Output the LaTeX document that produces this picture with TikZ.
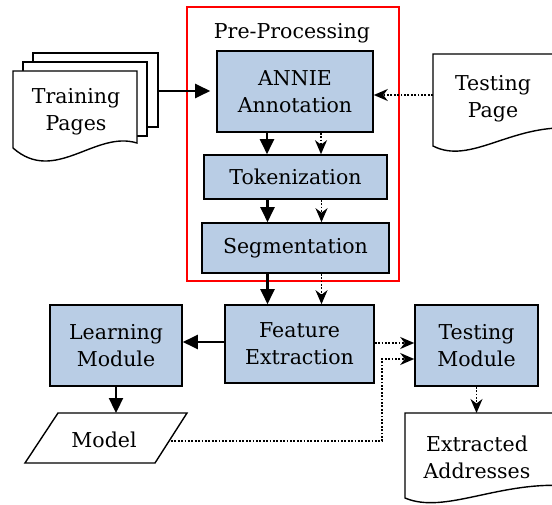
\documentclass[tikz,border=0pt]{standalone}
\usepackage{fontspec}
\setmainfont{DejaVu Serif}
\usetikzlibrary{arrows.meta}
\definecolor{boxblue}{RGB}{185,205,229}
\begin{document}
\begin{tikzpicture}[x=1pt,y=-1pt,
 txt/.style={align=center,inner sep=0pt,font=\fontsize{20.5}{27}\selectfont},
 proc/.style={txt,draw=black,line width=1.6pt,fill=boxblue},
 sol/.style={line width=2.3pt,-{Triangle[length=15pt,width=14pt]}},
 dot/.style={line width=1.4pt,dash pattern=on 1.8pt off 1.6pt,-{Stealth[length=14pt,width=12pt,inset=4.5pt]}},
 docline/.style={draw=black,line width=1.4pt,fill=white}]
\clip (0,0) rectangle (552,505);
\fill[white] (0,0) rectangle (552,505);

% pre-processing frame
\draw[red,line width=1.5pt] (187,7) rectangle (399,281);
\node[txt] (pre) at (292,33) {Pre-Processing};

% process boxes
\node[proc,minimum width=156pt,minimum height=81pt] (annie) at (295,91.5) {ANNIE\\Annotation};
\node[proc,minimum width=183pt,minimum height=44pt] (tok) at (295.5,177) {Tokenization};
\node[proc,minimum width=187pt,minimum height=50pt] (seg) at (295.5,248) {Segmentation};
\node[proc,minimum width=149pt,minimum height=78pt] (feat) at (299.5,344) {Feature\\Extraction};
\node[proc,minimum width=132pt,minimum height=81pt] (learn) at (116,345.5) {Learning\\Module};
\node[proc,minimum width=123pt,minimum height=81pt] (test) at (476.5,345.5) {Testing\\Module};

% training pages (stacked documents)
\draw[docline] (33,53) rectangle (158,127);
\draw[docline] (23,62) rectangle (147,136);
\draw[docline] (13,71) -- (137,71) -- (137,143) .. controls (95,130) and (55,185) .. (13,148) -- cycle;
\node[txt] (train) at (76,112) {Training\\Pages};
\coordinate (trainR) at (158,91);

% testing page
\draw[docline] (570,54) -- (433,54) -- (433,146) .. controls (470,165) and (510,125) .. (570,128);
\node[txt] (tpage) at (493,99) {Testing\\Page};
\coordinate (tpL) at (433,95);

% model
\draw[docline] (25,463) -- (58,413) -- (187,413) -- (155,463) -- cycle;
\node[txt] (model) at (104,440) {Model};
\coordinate (modelR) at (171,441);
\coordinate (modelT) at (116,413);

% extracted addresses
\draw[docline] (570,413) -- (405,413) -- (405,498) .. controls (445,515) and (500,480) .. (570,486);
\node[txt] (extr) at (477,457) {Extracted\\Addresses};
\coordinate (extrT) at (476.5,413);

% connectors
\draw[sol] (trainR) -- ([xshift=-6pt]trainR -| annie.west);
\draw[dot] (tpL) -- (tpL -| annie.east);
\draw[sol] ([xshift=-28pt]annie.south) -- ([xshift=-28pt]annie.south |- tok.north);
\draw[dot] ([xshift=26pt]annie.south) -- ([xshift=26pt]annie.south |- tok.north);
\draw[sol] ([xshift=-28pt]tok.south) -- ([xshift=-28pt]tok.south |- seg.north);
\draw[dot] ([xshift=26pt]tok.south) -- ([xshift=26pt]tok.south |- seg.north);
\draw[sol] ([xshift=-28pt]seg.south) -- ([xshift=-28pt]seg.south |- feat.north);
\draw[dot] ([xshift=26pt]seg.south) -- ([xshift=26pt]seg.south |- feat.north);
\draw[sol] ([yshift=2pt]feat.west) -- ([yshift=2pt]feat.west -| learn.east);
\draw[dot] ([yshift=1pt]feat.east) -- ([yshift=1pt]feat.east -| test.west);
\coordinate (mturn) at (382,359);
\draw[dot] (modelR) -- (mturn |- modelR) -- (mturn) -- (mturn -| test.west);
\draw[sol] (learn.south) -- (modelT);
\draw[dot] (test.south) -- (extrT);
\end{tikzpicture}
\end{document}
